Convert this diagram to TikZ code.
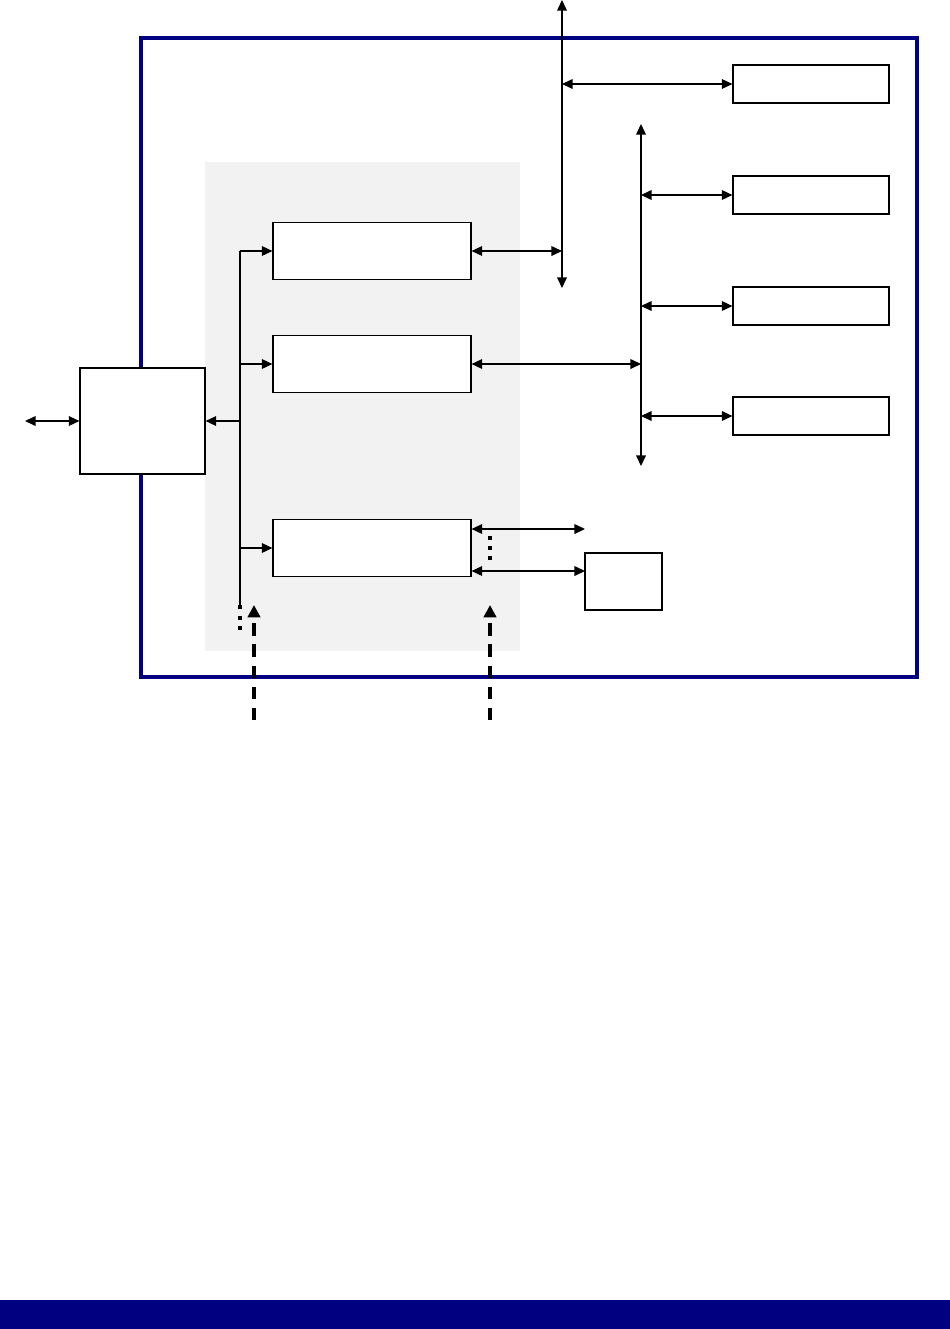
\documentclass[tikz,border=0pt]{standalone}
\usetikzlibrary{arrows.meta}
\definecolor{frameblue}{RGB}{0,0,128}
\definecolor{panelgray}{RGB}{242,242,242}
\begin{document}
\begin{tikzpicture}[x=0.02cm,y=-0.02cm,>={Triangle[length=6pt,width=5.5pt]},line width=0.7pt]
  \tikzstyle{box}=[draw, fill=white, line width=0.7pt, inner sep=0pt]
  \tikzstyle{unit}=[box, minimum width=3.96cm, minimum height=1.14cm]
  \tikzstyle{periph}=[box, minimum width=3.12cm, minimum height=0.76cm]
  \tikzstyle{dots}=[line width=2pt, dash pattern=on 2.5pt off 3.5pt]
  \tikzstyle{feed}=[line width=2pt, dash pattern=on 7pt off 5pt,
    -{Triangle[length=7pt,width=7pt]}]

  \useasboundingbox (0,0) rectangle (950,1329);
  \fill[frameblue] (0,1300) rectangle (950,1329);

  % outer frame and shaded panel
  \draw[frameblue, line width=2.2pt] (141,38) rectangle (917,677);
  \fill[panelgray] (205,162) rectangle (520,651);

  \node[box, minimum width=2.5cm, minimum height=2.12cm] (host) at (142.5,421) {};
  \node[unit] (uA) at (372,251) {};
  \node[unit] (uB) at (372,364) {};
  \node[unit] (uC) at (372,548) {};
  \node[box, minimum width=1.54cm, minimum height=1.14cm] (aux) at (623.5,581.5) {};
  \node[periph] (p1) at (811,84) {};
  \node[periph] (p2) at (811,195) {};
  \node[periph] (p3) at (811,306) {};
  \node[periph] (p4) at (811,416) {};

  \coordinate (ext) at (25,421);
  \coordinate (busAtop) at (562,0);
  \coordinate (busAbot) at (562,288);
  \coordinate (busBtop) at (641,124);
  \coordinate (busBbot) at (641,466);
  \coordinate (lbus) at (240,605);
  \coordinate (lbusend) at (240,636);
  \coordinate (free) at (585,529);
  \coordinate (auxin) at (585,571);
  \coordinate (feedA) at (254,720);
  \coordinate (feedB) at (490,720);

  % system buses
  \draw[<->] (busAbot) -- (busAtop);
  \draw[<->] (busBbot) -- (busBtop);
  \draw[<->] (busAtop |- p1.west) -- (p1.west);
  \draw[<->] (uA.east) -- (uA.east -| busAtop);
  \draw[<->] (uB.east) -- (uB.east -| busBtop);
  \foreach \p in {p2,p3,p4} {
    \draw[<->] (busBtop |- \p.west) -- (\p.west);
  }

  % host side
  \draw[<->] (ext) -- (host.west);
  \draw (lbus |- uA.west) -- (lbus);
  \draw[dots] (lbus) -- (lbusend);
  \foreach \u in {uA,uB,uC} {
    \draw[->] (lbus |- \u.west) -- (\u.west);
  }
  \draw[->] (lbus |- host.east) -- (host.east);

  % unit C outputs
  \draw[<->] (uC.east |- free) -- (free);
  \draw[<->] (uC.east |- auxin) -- (auxin);
  \draw[dots, dash pattern=on 2.2pt off 3.5pt] (490,536) -- (490,563);

  % external inputs
  \draw[feed] (feedA) -- (254,605);
  \draw[feed] (feedB) -- (490,605);
\end{tikzpicture}
\end{document}
